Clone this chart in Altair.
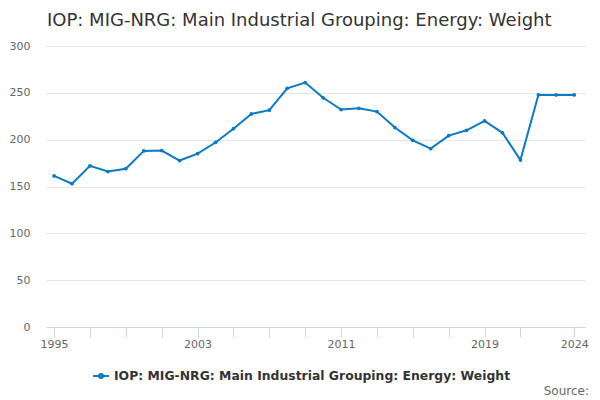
import altair as alt
import pandas as pd

years = list(range(1995, 2025))
values = [161.3, 153.0, 172.0, 166.0, 169.0, 188.0, 188.4, 177.7, 185.0, 197.0,
          211.7, 227.5, 231.5, 254.8, 261.0, 244.7, 232.2, 233.5, 230.0, 212.9,
          199.2, 190.4, 204.3, 210.0, 220.0, 207.3, 178.3, 247.8, 247.8, 247.8]
series_name = "IOP: MIG-NRG: Main Industrial Grouping: Energy: Weight"
x_ticks = list(range(1995, 2023, 2)) + [2024]
x_labels = [1995, 2003, 2011, 2019, 2024]
y_ticks = [0, 50, 100, 150, 200, 250, 300]

df = pd.DataFrame({"year": years, "value": values, "series": [series_name] * len(years)})

FONT = "DejaVu Sans"
COLOR = "#0a7bc4"

label_test = "indexof([" + ",".join(str(v) for v in x_labels) + "], datum.value) >= 0 ? datum.label : ''"

x = alt.X("year:Q",
          scale=alt.Scale(domain=[1994.55, 2024.6], nice=False, zero=False),
          axis=alt.Axis(values=x_ticks, format="d", labelExpr=label_test, title=None,
                        grid=False, domainColor="#ccd6eb", tickColor="#ccd6eb",
                        tickSize=10, labelColor="#666666", labelFontSize=11,
                        labelFont=FONT, labelPadding=1, labelOverlap=False))
y = alt.Y("value:Q",
          scale=alt.Scale(domain=[0, 300], nice=False),
          axis=alt.Axis(values=y_ticks, title=None, domain=False, ticks=False,
                        gridColor="#e6e6e6", labelColor="#666666", labelFontSize=11,
                        labelFont=FONT, labelPadding=16))

legend_symbol = "M-1,0L1,0M-0.25,0A0.25,0.25 0 1,0 0.25,0A0.25,0.25 0 1,0 -0.25,0Z"

line = alt.Chart(df).mark_line(strokeWidth=2, point=alt.OverlayMarkDef(size=14, filled=True, color=COLOR)).encode(
    x=x, y=y,
    color=alt.Color("series:N", scale=alt.Scale(range=[COLOR]),
                    legend=alt.Legend(title=None, orient="none", legendX=46, legendY=321,
                                      symbolType=legend_symbol, symbolSize=256,
                                      symbolStrokeWidth=2, symbolStrokeColor=COLOR,
                                      symbolFillColor=COLOR, labelOffset=4,
                                      labelFont=FONT, labelFontSize=12.4, labelFontWeight="bold",
                                      labelColor="#333333", labelLimit=600))
)

title = alt.Chart(pd.DataFrame({"t": [series_name]})).mark_text(
    align="left", baseline="alphabetic", font=FONT, fontSize=18, color="#333333"
).encode(text="t:N", x=alt.value(1), y=alt.value(-20))

source = alt.Chart(pd.DataFrame({"t": ["Source:"]})).mark_text(
    align="right", baseline="middle", font=FONT, fontSize=12, color="#666666"
).encode(text="t:N", x=alt.value(543), y=alt.value(345))

chart = alt.layer(line, title, source).properties(
    width=539, height=281,
    autosize=alt.AutoSizeParams(type="none"),
    padding={"left": 38, "top": 38, "right": 7, "bottom": 72},
).configure_view(stroke=None)

chart.save("out.html", embed_options={"renderer": "svg", "actions": False})
